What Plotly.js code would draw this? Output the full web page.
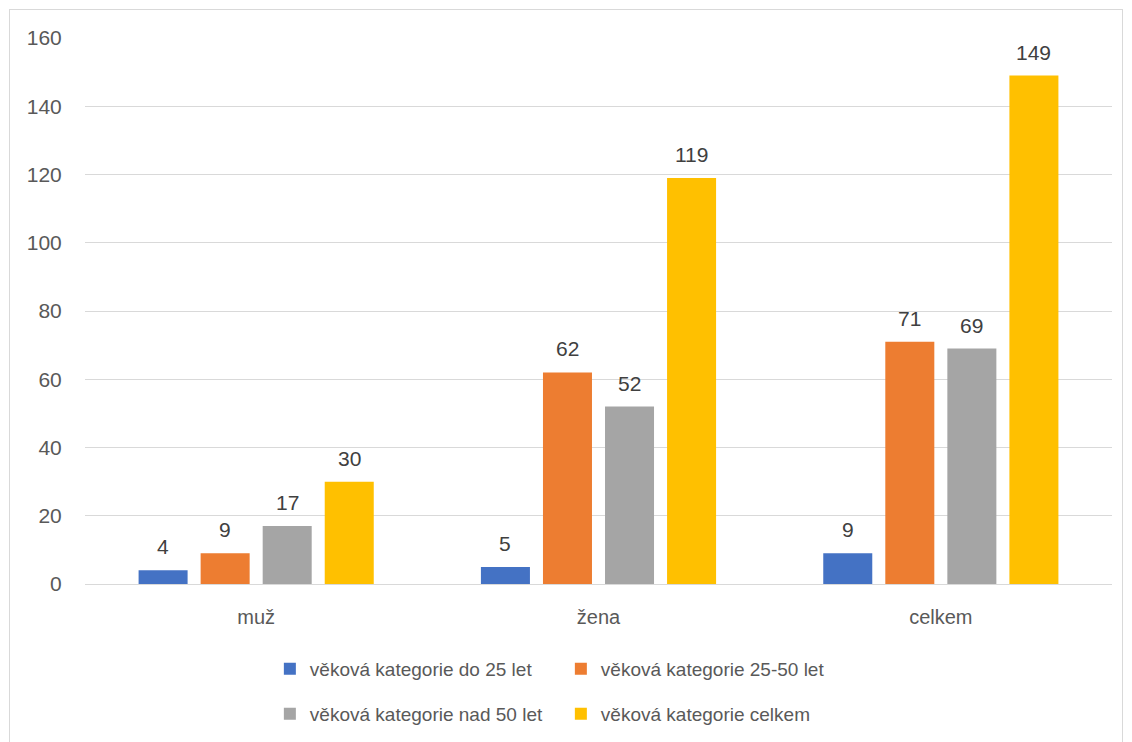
<!DOCTYPE html>
<html>
<head>
<meta charset="utf-8">
<script src="https://cdn.plot.ly/plotly-3.0.1.min.js"></script>
<style>
  body { margin:0; background:#fff; }
  #frame { position:absolute; left:9px; top:9px; width:1112px; height:740px; border:1px solid #d9d9d9; border-bottom:none; }
  #chart { position:absolute; left:0; top:0; width:1132px; height:742px; }
</style>
</head>
<body>
<div id="frame"></div>
<div id="chart"></div>
<script>
const categories = ["muž", "žena", "celkem"];
const seriesNames = ["věková kategorie do 25 let", "věková kategorie 25-50 let", "věková kategorie nad 50 let", "věková kategorie celkem"];
const under25 = [4, 5, 9];
const age25to50 = [9, 62, 71];
const over50 = [17, 52, 69];
const total = [30, 119, 149];
const colors = ["#4472C4", "#ED7D31", "#A5A5A5", "#FFC000"];
const yTicks = [0, 20, 40, 60, 80, 100, 120, 140, 160];

const allValues = [under25, age25to50, over50, total];
const legendIds = ["legend", "legend", "legend2", "legend2"];
const FONT = "Liberation Sans, Arial, sans-serif";

const traces = allValues.map((vals, i) => ({
  type: "bar",
  name: seriesNames[i],
  x: categories,
  y: vals,
  marker: { color: colors[i] },
  legend: legendIds[i],
  hoverinfo: "skip",
  offsetgroup: String(i)
}));

const nSeries = allValues.length;
const groupFrac = 0.725;
const annotations = [];
allValues.forEach((vals, i) => {
  vals.forEach((v, j) => {
    const off = (i - (nSeries - 1) / 2) * (groupFrac / nSeries);
    annotations.push({
      x: j + off, y: v, xref: "x", yref: "y",
      text: String(v), showarrow: false,
      yanchor: "bottom", yshift: 10,
      font: { family: FONT, size: 21, color: "#404040" }
    });
  });
});

const legendCommon = {
  orientation: "h",
  xanchor: "left",
  yanchor: "middle",
  xref: "paper", yref: "paper",
  entrywidth: 246,
  entrywidthmode: "pixels",
  itemwidth: 30,
  font: { family: FONT, size: 19, color: "#595959" },
  bgcolor: "rgba(0,0,0,0)",
  traceorder: "normal"
};

const layout = {
  width: 1132, height: 742,
  margin: { l: 85, r: 20, t: 38, b: 158, autoexpand: false },
  paper_bgcolor: "rgba(0,0,0,0)",
  plot_bgcolor: "rgba(0,0,0,0)",
  barmode: "group",
  bargap: 0.275,
  bargroupgap: 0.21,
  showlegend: true,
  legend: Object.assign({}, legendCommon, { x: 0.180, y: (584 - 669) / 546 }),
  legend2: Object.assign({}, legendCommon, { x: 0.180, y: (584 - 714) / 546 }),
  xaxis: {
    type: "category",
    tickfont: { family: FONT, size: 20, color: "#595959" },
    ticks: "outside", ticklen: 15, tickcolor: "rgba(0,0,0,0)",
    showline: false, showgrid: false, zeroline: false,
    fixedrange: true
  },
  yaxis: {
    range: [0, 160],
    tickvals: yTicks,
    ticktext: yTicks.map(String),
    tickfont: { family: FONT, size: 21, color: "#595959" },
    ticks: "outside", ticklen: 18, tickcolor: "rgba(0,0,0,0)",
    showgrid: true, gridcolor: "#d9d9d9", gridwidth: 1,
    zeroline: true, zerolinecolor: "#d9d9d9", zerolinewidth: 1,
    showline: false, fixedrange: true
  },
  annotations: annotations,
  font: { family: FONT }
};

Plotly.newPlot("chart", traces, layout, { displayModeBar: false, staticPlot: true });
</script>
</body>
</html>
